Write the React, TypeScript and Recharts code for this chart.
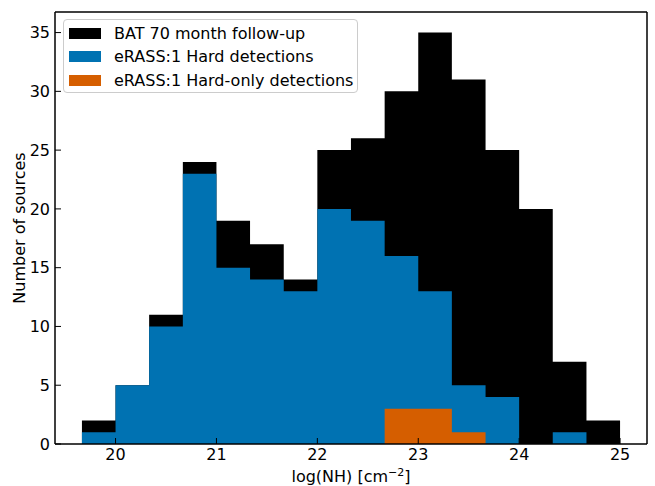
import React from "react";
import { ComposedChart, Area, XAxis, YAxis } from "recharts";

// Histogram bin edges (log NH), 1/3 dex bins
const binEdges = [19.667, 20, 20.333, 20.667, 21, 21.333, 21.667, 22, 22.333, 22.667, 23, 23.333, 23.667, 24, 24.333, 24.667, 25];
// Counts per bin (16 bins)
const batCounts = [2, 5, 11, 24, 19, 17, 14, 25, 26, 30, 35, 31, 25, 20, 7, 2];
const hardCounts = [1, 5, 10, 23, 15, 14, 13, 20, 19, 16, 13, 5, 4, 0, 1, 0];
const hardOnlyCounts = [0, 0, 0, 0, 0, 0, 0, 0, 0, 3, 3, 1, 0, 0, 0, 0];

const xTicks = [20, 21, 22, 23, 24, 25];
const yTicks = [0, 5, 10, 15, 20, 25, 30, 35];

const seriesNames = ["BAT 70 month follow-up", "eRASS:1 Hard detections", "eRASS:1 Hard-only detections"];
const seriesColors = ["#000000", "#0072B2", "#D55E00"];

const data = binEdges.map((x, i) => ({
  x,
  bat: i < batCounts.length ? batCounts[i] : 0,
  hard: i < hardCounts.length ? hardCounts[i] : 0,
  only: i < hardOnlyCounts.length ? hardOnlyCounts[i] : 0,
}));

const xDomain = [19.4, 25.267];
const yDomain = [0, 36.75];

const FONT = "'DejaVu Sans', sans-serif";
const FS = 16;
const tickStyle = { fill: "#000", fontSize: FS, fontFamily: FONT };
const axisLine = { stroke: "#000", strokeWidth: 1.5 };
const tickLine = { stroke: "#000", strokeWidth: 1 };

const XLabel = (props: any) => {
  const vb = props.viewBox || { x: 55, y: 444, width: 592, height: 42 };
  return (
    <text x={vb.x + vb.width / 2} y={482} textAnchor="middle" fill="#000" fontSize={FS} fontFamily={FONT}>
      log(NH) [cm
      <tspan dy={-6} fontSize={11}>−2</tspan>
      <tspan dy={6}>]</tspan>
    </text>
  );
};

const YLabel = (props: any) => {
  const vb = props.viewBox || { x: 0, y: 12, width: 55, height: 432 };
  const cx = 19;
  const cy = vb.y + vb.height / 2;
  return (
    <text x={cx} y={cy} transform={`rotate(-90 ${cx} ${cy})`} textAnchor="middle" dominantBaseline="central" fill="#000" fontSize={FS} fontFamily={FONT}>
      Number of sources
    </text>
  );
};

export default function App() {
  return (
    <div style={{ position: "absolute", left: 0, top: 0, width: 655, height: 486, background: "#fff" }}>
      <ComposedChart
        width={655}
        height={486}
        data={data}
        margin={{ top: 10, right: 0, bottom: 0, left: 0 }}
        style={{ fontFamily: FONT }}
      >
        <XAxis
          xAxisId="bottom"
          dataKey="x"
          type="number"
          domain={xDomain}
          ticks={xTicks}
          allowDataOverflow
          height={42}
          tickSize={-6}
          tickMargin={11}
          tick={tickStyle}
          axisLine={axisLine}
          tickLine={tickLine}
          label={{ content: XLabel }}
        />
        <XAxis
          xAxisId="top"
          orientation="top"
          type="number"
          domain={xDomain}
          ticks={xTicks}
          allowDataOverflow
          height={2}
          tickSize={-6}
          tick={false}
          axisLine={axisLine}
          tickLine={tickLine}
        />
        <YAxis
          yAxisId="left"
          type="number"
          domain={yDomain}
          ticks={yTicks}
          allowDataOverflow
          width={55}
          tickSize={-6}
          tickMargin={11}
          tick={tickStyle}
          axisLine={axisLine}
          tickLine={tickLine}
          label={{ content: YLabel }}
        />
        <YAxis
          yAxisId="right"
          orientation="right"
          type="number"
          domain={yDomain}
          ticks={yTicks}
          allowDataOverflow
          width={8}
          tickSize={-6}
          tick={false}
          axisLine={axisLine}
          tickLine={tickLine}
        />
        <Area xAxisId="bottom" yAxisId="left" type="stepAfter" dataKey="bat" fill={seriesColors[0]} fillOpacity={1} stroke="none" dot={false} activeDot={false} isAnimationActive={false} />
        <Area xAxisId="bottom" yAxisId="left" type="stepAfter" dataKey="hard" fill={seriesColors[1]} fillOpacity={1} stroke="none" dot={false} activeDot={false} isAnimationActive={false} />
        <Area xAxisId="bottom" yAxisId="left" type="stepAfter" dataKey="only" fill={seriesColors[2]} fillOpacity={1} stroke="none" dot={false} activeDot={false} isAnimationActive={false} />
      </ComposedChart>
      <div
        style={{
          position: "absolute",
          left: 63,
          top: 19,
          width: 295,
          height: 74,
          border: "1px solid #cccccc",
          borderRadius: 4,
          background: "rgba(255,255,255,0.8)",
          fontFamily: FONT,
          fontSize: FS,
          color: "#000",
          boxSizing: "border-box",
        }}
      >
        {seriesNames.map((name, i) => (
          <div key={name} style={{ position: "absolute", left: 0, top: 3 + i * 23.5, height: 20, display: "flex", alignItems: "center", whiteSpace: "nowrap" }}>
            <div style={{ width: 32, height: 11, marginLeft: 5, background: seriesColors[i] }} />
            <span style={{ marginLeft: 13 }}>{name}</span>
          </div>
        ))}
      </div>
    </div>
  );
}
